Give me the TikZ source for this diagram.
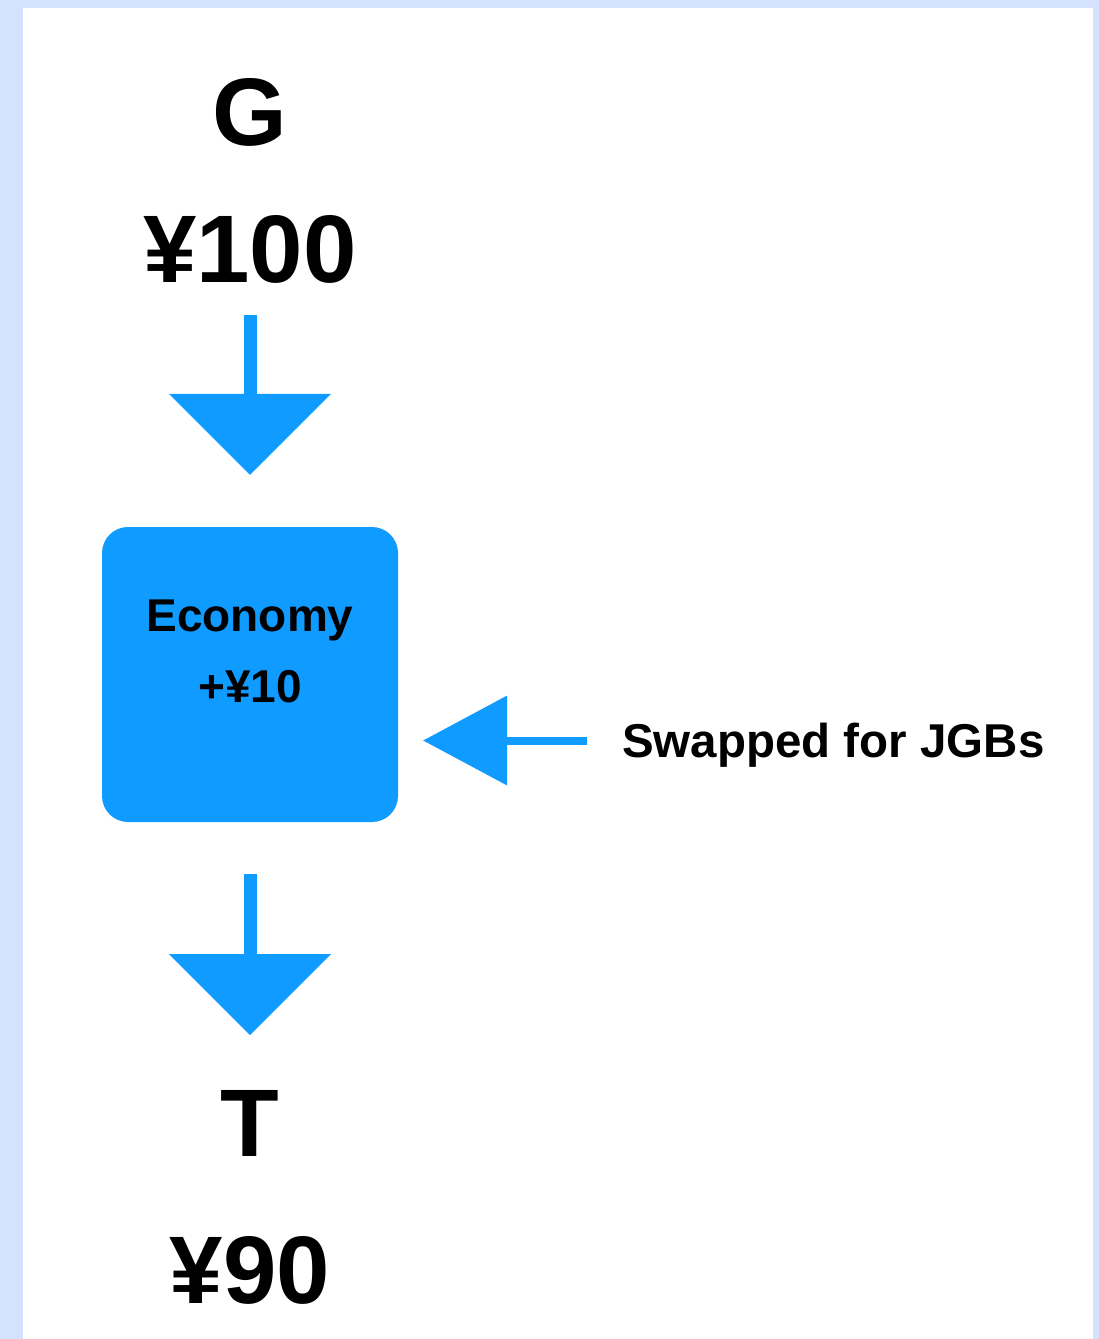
\documentclass[tikz,border=0pt]{standalone}
\usepackage{fontspec}
\setmainfont{Liberation Sans}
\usetikzlibrary{arrows.meta}
\definecolor{bgblue}{RGB}{213,226,255}
\definecolor{flowblue}{RGB}{15,155,255}
\begin{document}
\begin{tikzpicture}[x=1pt,y=-1pt,
  bigtxt/.style={font=\fontsize{96}{100}\selectfont\bfseries, inner sep=0pt, anchor=base},
  midtxt/.style={font=\fontsize{46}{50}\selectfont\bfseries, inner sep=0pt},
  downarrow/.style={draw=flowblue, line width=13pt,
    -{Triangle[length=81pt,width=162pt,line width=0pt,fill=flowblue]}},
  leftarrow/.style={draw=flowblue, line width=8pt,
    -{Triangle[length=84pt,width=90pt,line width=0pt,fill=flowblue]}},
  boxstyle/.style={fill=flowblue, rounded corners=26pt, minimum width=296pt,
    minimum height=295pt, inner sep=0pt}]
  % background and page
  \fill[bgblue] (0,0) rectangle (1099,1339);
  \fill[white] (23,8) rectangle (1093,1339);
  \useasboundingbox (0,0) rectangle (1099,1339);
  % texts
  \node[bigtxt] (g) at (250,145) {G};
  \node[bigtxt] (g100) at (250,282) {¥100};
  \node[boxstyle] (econ) at (250,674.5) {};
  \node[midtxt, anchor=base] (econname) at (250,631) {Economy};
  \node[midtxt, anchor=base] (econplus) at (250,702) {+¥10};
  \node[midtxt, anchor=base west, font=\fontsize{47.5}{50}\selectfont\bfseries] (swap) at (622,757) {Swapped for JGBs};
  \node[bigtxt] (t) at (250,1156) {T};
  \node[bigtxt] (t90) at (250,1303) {¥90};
  % connectors
  \coordinate (a1s) at (250,315);
  \coordinate (a2s) at (250,874);
  \coordinate (a3s) at (587,740.5);
  \draw[downarrow, shorten >=52pt] (a1s) -- (econ.north);
  \draw[downarrow, shorten >=50pt] (a2s) -- (t.north |- 0,1085);
  \draw[leftarrow, shorten >=25pt] (a3s) -- (a3s -| econ.east);
\end{tikzpicture}
\end{document}
